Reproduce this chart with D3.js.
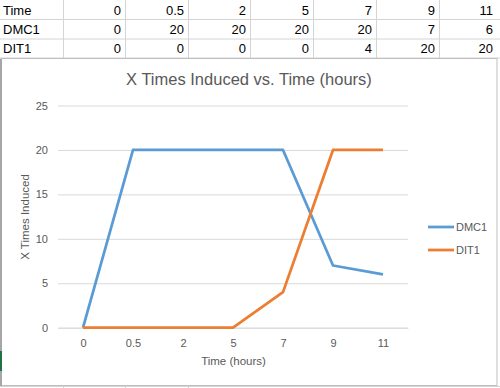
<!DOCTYPE html>
<html><head><meta charset="utf-8">
<script src="https://cdn.jsdelivr.net/npm/d3@7"></script>
<style>body{margin:0;background:#fff}svg{display:block}</style>
</head><body>
<script>
const times = ["0","0.5","2","5","7","9","11"];
const dmc1 = [0,20,20,20,20,7,6];
const dit1 = [0,0,0,0,4,20,20];
const yTicks = [0,5,10,15,20,25];
const seriesNames = ["DMC1","DIT1"];
const colors = ["#5B9BD5","#ED7D31"];

const W=500,H=388;
const svg=d3.select("body").append("svg").attr("width",W).attr("height",H);
const font="'Liberation Sans', Arial, sans-serif";

// spreadsheet table
const colEdges=[0,63,125,188,250,313,376,439,500];
const rowEdges=[0,19.5,39,58];
const grid=svg.append("g");
rowEdges.slice(1).forEach(y=>grid.append("line").attr("x1",0).attr("x2",W).attr("y1",y).attr("y2",y).attr("stroke","#d4d4d4"));
colEdges.slice(1,-1).forEach(x=>grid.append("line").attr("x1",x+0.5).attr("x2",x+0.5).attr("y1",0).attr("y2",58).attr("stroke","#d4d4d4"));
const rows=[["Time",...times],["DMC1",...dmc1.map(String)],["DIT1",...dit1.map(String)]];
rows.forEach((r,i)=>{
  const yb=[15,34,53][i];
  r.forEach((v,j)=>{
    const t=svg.append("text").attr("y",yb).attr("font-family",font).attr("font-size",13).attr("fill","#000").text(v);
    if(j===0) t.attr("x",3); else t.attr("x",Math.min(colEdges[j+1],497)-4).attr("text-anchor","end");
  });
});
// bottom row lines
svg.append("line").attr("x1",0).attr("x2",W).attr("y1",386.5).attr("y2",386.5).attr("stroke","#d4d4d4");
[63,125,188].forEach(x=>svg.append("line").attr("x1",x+0.5).attr("x2",x+0.5).attr("y1",386).attr("y2",388).attr("stroke","#d4d4d4"));
// chart border
svg.append("rect").attr("x",1).attr("y",58.5).attr("width",496).attr("height",327).attr("fill","#fff").attr("stroke","#bfbfbf");
svg.append("rect").attr("x",0).attr("y",59).attr("width",2).attr("height",327).attr("fill","#a6a6a6");
svg.append("rect").attr("x",0).attr("y",351).attr("width",2).attr("height",20).attr("fill","#217346");

// chart
const x=d3.scalePoint().domain(times).range([58,408]).padding(0.5);
const y=d3.scaleLinear().domain([0,25]).range([327.7,105.5]);

const yAxis=svg.append("g").attr("transform","translate(58,0)")
  .call(d3.axisLeft(y).tickValues(yTicks).tickSize(-350).tickPadding(10));
yAxis.select(".domain").remove();
yAxis.selectAll(".tick line").attr("stroke","#d9d9d9");
yAxis.selectAll(".tick text").attr("font-family",font).attr("font-size",11).attr("fill","#595959");

const xAxis=svg.append("g").attr("transform","translate(0,327.7)")
  .call(d3.axisBottom(x).tickSize(0).tickPadding(12));
xAxis.select(".domain").attr("stroke","#d9d9d9");
xAxis.selectAll(".tick text").attr("font-family",font).attr("font-size",11).attr("fill","#595959");

const line=d3.line().x((d,i)=>x(times[i])).y(d=>y(d));
[dmc1,dit1].forEach((s,k)=>{
  svg.append("path").datum(s).attr("d",line).attr("fill","none").attr("stroke",colors[k]).attr("stroke-width",2.75).attr("stroke-linejoin","round");
});

svg.append("text").attr("x",249).attr("y",85).attr("text-anchor","middle").attr("font-family",font).attr("font-size",16.5).attr("fill","#595959").text("X Times Induced vs. Time (hours)");
svg.append("text").attr("x",233.5).attr("y",365).attr("text-anchor","middle").attr("font-family",font).attr("font-size",11.5).attr("fill","#595959").text("Time (hours)");
svg.append("text").attr("transform","translate(29,217) rotate(-90)").attr("text-anchor","middle").attr("font-family",font).attr("font-size",11.5).attr("fill","#595959").text("X Times Induced");

// legend
seriesNames.forEach((n,k)=>{
  const ly=[227,250][k];
  svg.append("line").attr("x1",428).attr("x2",454).attr("y1",ly).attr("y2",ly).attr("stroke",colors[k]).attr("stroke-width",2.75);
  svg.append("text").attr("x",456).attr("y",ly+4).attr("font-family",font).attr("font-size",11).attr("fill","#595959").text(n);
});
</script>
</body></html>
